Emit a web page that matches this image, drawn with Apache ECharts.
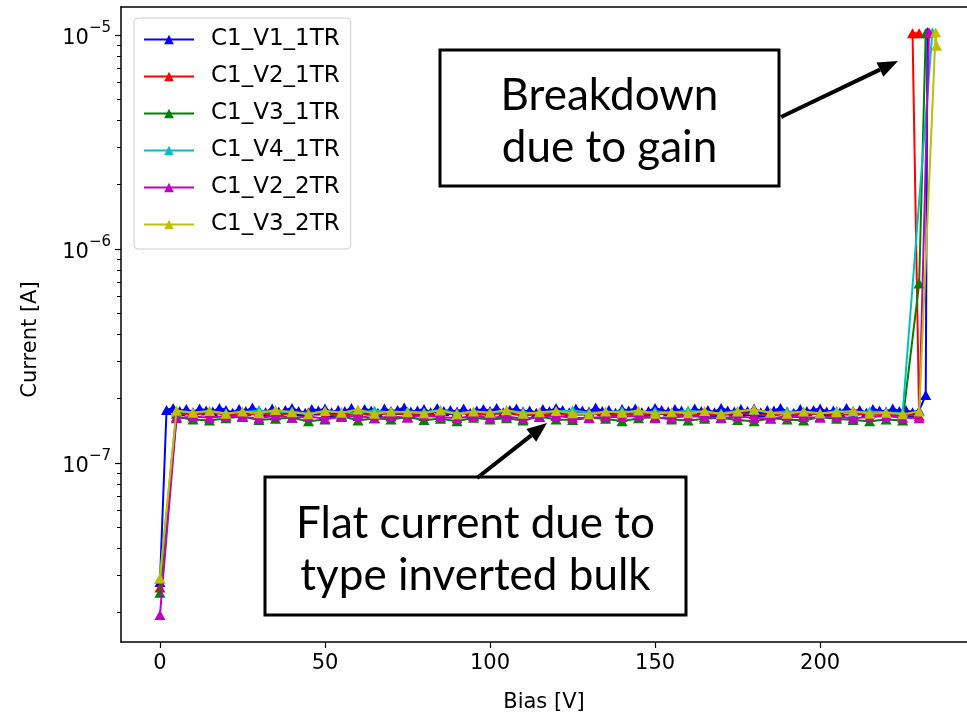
<!DOCTYPE html>
<html>
<head>
<meta charset="utf-8">
<script src="https://cdn.jsdelivr.net/npm/echarts@6/dist/echarts.min.js"></script>
<style>
  html, body { margin: 0; padding: 0; background: #ffffff; }
  #chart { width: 967px; height: 718px; }
</style>
</head>
<body>
<div id="chart"></div>
<script>
// I-V sweeps of six sensors: bias voltage [V] vs leakage current [A]
const seriesNames = ['C1_V1_1TR', 'C1_V2_1TR', 'C1_V3_1TR', 'C1_V4_1TR', 'C1_V2_2TR', 'C1_V3_2TR'];
const seriesColors = ['#0000ff', '#ff0000', '#008000', '#00bfbf', '#bf00bf', '#bfbf00'];

const biasV1_1TR = [0,2,4,6,8,10,12,14,16,18,20,22,24,26,28,30,32,34,36,38,40,42,44,46,48,50,52,54,56,58,60,62,64,66,68,70,72,74,76,78,80,82,84,86,88,90,92,94,96,98,100,102,104,106,108,110,112,114,116,118,120,122,124,126,128,130,132,134,136,138,140,142,144,146,148,150,152,154,156,158,160,162,164,166,168,170,172,174,176,178,180,182,184,186,188,190,192,194,196,198,200,202,204,206,208,210,212,214,216,218,220,222,224,226,228,230,232,232.5];
const currV1_1TR = [2.78e-8,
  1.77e-7,1.81e-7,1.75e-7,1.79e-7,1.73e-7,1.80e-7,1.76e-7,1.74e-7,1.81e-7,1.77e-7,
  1.72e-7,1.79e-7,1.75e-7,1.82e-7,1.76e-7,1.73e-7,1.80e-7,1.74e-7,1.77e-7,1.81e-7,
  1.75e-7,1.72e-7,1.79e-7,1.76e-7,1.80e-7,1.73e-7,1.77e-7,1.75e-7,1.81e-7,1.74e-7,
  1.79e-7,1.76e-7,1.72e-7,1.80e-7,1.75e-7,1.77e-7,1.82e-7,1.74e-7,1.76e-7,1.79e-7,
  1.73e-7,1.81e-7,1.75e-7,1.77e-7,1.74e-7,1.80e-7,1.72e-7,1.76e-7,1.79e-7,1.75e-7,
  1.81e-7,1.73e-7,1.77e-7,1.80e-7,1.74e-7,1.76e-7,1.72e-7,1.79e-7,1.75e-7,1.81e-7,
  1.77e-7,1.73e-7,1.80e-7,1.76e-7,1.74e-7,1.82e-7,1.75e-7,1.77e-7,1.72e-7,1.79e-7,
  1.76e-7,1.80e-7,1.73e-7,1.75e-7,1.81e-7,1.77e-7,1.74e-7,1.79e-7,1.76e-7,1.72e-7,
  1.80e-7,1.75e-7,1.77e-7,1.73e-7,1.81e-7,1.76e-7,1.74e-7,1.79e-7,1.75e-7,1.80e-7,
  1.73e-7,1.77e-7,1.76e-7,1.81e-7,1.74e-7,1.72e-7,1.79e-7,1.75e-7,1.77e-7,1.80e-7,
  1.74e-7,1.76e-7,1.73e-7,1.81e-7,1.75e-7,1.77e-7,1.72e-7,1.79e-7,1.76e-7,1.74e-7,
  1.80e-7,1.75e-7,1.77e-7,1.73e-7,1.76e-7,
  2.08e-7,1.03e-5];

const biasV2_1TR = [0,5,10,15,20,25,30,35,40,45,50,55,60,65,70,75,80,85,90,95,100,105,110,115,120,125,130,135,140,145,150,155,160,165,170,175,180,185,190,195,200,205,210,215,220,225,230,228,230];
const currV2_1TR = [2.62e-8,
  1.70e-7,1.68e-7,1.72e-7,1.69e-7,1.67e-7,1.71e-7,1.68e-7,1.70e-7,1.73e-7,1.69e-7,
  1.67e-7,1.70e-7,1.68e-7,1.71e-7,1.69e-7,1.66e-7,1.70e-7,1.72e-7,1.68e-7,1.69e-7,
  1.71e-7,1.67e-7,1.70e-7,1.68e-7,1.69e-7,1.72e-7,1.67e-7,1.70e-7,1.68e-7,1.71e-7,
  1.69e-7,1.66e-7,1.70e-7,1.68e-7,1.72e-7,1.69e-7,1.67e-7,1.70e-7,1.68e-7,1.71e-7,
  1.69e-7,1.68e-7,1.70e-7,1.67e-7,1.69e-7,1.66e-7,
  1.02e-5,1.02e-5];

const biasV3_1TR = [0,5,10,15,20,25,30,35,40,45,50,55,60,65,70,75,80,85,90,95,100,105,110,115,120,125,130,135,140,145,150,155,160,165,170,175,180,185,190,195,200,205,210,215,220,225,230,232];
const currV3_1TR = [2.48e-8,
  1.64e-7,1.60e-7,1.58e-7,1.62e-7,1.65e-7,1.59e-7,1.61e-7,1.63e-7,1.57e-7,1.60e-7,
  1.66e-7,1.58e-7,1.62e-7,1.60e-7,1.64e-7,1.59e-7,1.61e-7,1.57e-7,1.63e-7,1.60e-7,
  1.62e-7,1.58e-7,1.65e-7,1.60e-7,1.59e-7,1.63e-7,1.61e-7,1.57e-7,1.62e-7,1.64e-7,
  1.60e-7,1.58e-7,1.61e-7,1.63e-7,1.59e-7,1.57e-7,1.62e-7,1.60e-7,1.58e-7,1.64e-7,
  1.61e-7,1.59e-7,1.57e-7,1.60e-7,1.58e-7,
  6.9e-7,1.02e-5];

const biasV4_1TR = [0,5,10,15,20,25,30,35,40,45,50,55,60,65,70,75,80,85,90,95,100,105,110,115,120,125,130,135,140,145,150,155,160,165,170,175,180,185,190,195,200,205,210,215,220,225,234];
const currV4_1TR = [2.88e-8,
  1.74e-7,1.72e-7,1.75e-7,1.71e-7,1.73e-7,1.76e-7,1.72e-7,1.74e-7,1.70e-7,1.75e-7,
  1.73e-7,1.71e-7,1.76e-7,1.72e-7,1.74e-7,1.73e-7,1.77e-7,1.71e-7,1.74e-7,1.72e-7,
  1.75e-7,1.73e-7,1.70e-7,1.74e-7,1.76e-7,1.72e-7,1.73e-7,1.75e-7,1.71e-7,1.74e-7,
  1.72e-7,1.76e-7,1.73e-7,1.71e-7,1.75e-7,1.77e-7,1.72e-7,1.74e-7,1.73e-7,1.70e-7,
  1.75e-7,1.72e-7,1.74e-7,1.73e-7,1.71e-7,
  1.03e-5];

const biasV2_2TR = [0,5,10,15,20,25,30,35,40,45,50,55,60,65,70,75,80,85,90,95,100,105,110,115,120,125,130,135,140,145,150,155,160,165,170,175,180,185,190,195,200,205,210,215,220,225,230,233];
const currV2_2TR = [1.95e-8,
  1.62e-7,1.65e-7,1.63e-7,1.66e-7,1.64e-7,1.62e-7,1.67e-7,1.63e-7,1.65e-7,1.61e-7,
  1.64e-7,1.66e-7,1.62e-7,1.65e-7,1.63e-7,1.67e-7,1.64e-7,1.62e-7,1.66e-7,1.63e-7,
  1.65e-7,1.61e-7,1.64e-7,1.66e-7,1.63e-7,1.62e-7,1.65e-7,1.64e-7,1.67e-7,1.62e-7,
  1.63e-7,1.66e-7,1.64e-7,1.62e-7,1.65e-7,1.63e-7,1.61e-7,1.66e-7,1.64e-7,1.63e-7,
  1.65e-7,1.62e-7,1.64e-7,1.66e-7,1.63e-7,1.62e-7,
  1.03e-5];

const biasV3_2TR = [0,5,10,15,20,25,30,35,40,45,50,55,60,65,70,75,80,85,90,95,100,105,110,115,120,125,130,135,140,145,150,155,160,165,170,175,180,185,190,195,200,205,210,215,220,225,230,235,235.3];
const currV3_2TR = [2.90e-8,
  1.76e-7,1.72e-7,1.75e-7,1.70e-7,1.74e-7,1.71e-7,1.77e-7,1.73e-7,1.69e-7,1.75e-7,
  1.72e-7,1.78e-7,1.70e-7,1.74e-7,1.73e-7,1.71e-7,1.76e-7,1.69e-7,1.74e-7,1.72e-7,
  1.77e-7,1.70e-7,1.73e-7,1.75e-7,1.71e-7,1.69e-7,1.74e-7,1.72e-7,1.76e-7,1.70e-7,
  1.73e-7,1.71e-7,1.75e-7,1.69e-7,1.74e-7,1.78e-7,1.72e-7,1.70e-7,1.74e-7,1.71e-7,
  1.73e-7,1.75e-7,1.70e-7,1.72e-7,1.69e-7,1.74e-7,
  1.03e-5,8.9e-6];

const biasArrays = [biasV1_1TR, biasV2_1TR, biasV3_1TR, biasV4_1TR, biasV2_2TR, biasV3_2TR];
const currArrays = [currV1_1TR, currV2_1TR, currV3_1TR, currV4_1TR, currV2_2TR, currV3_2TR];

// axis ticks
const biasTicks = [0, 50, 100, 150, 200];
const currentMajorTicks = [1e-7, 1e-6, 1e-5];
const currentMinorTicks = [2e-8,3e-8,4e-8,5e-8,6e-8,7e-8,8e-8,9e-8,
                           2e-7,3e-7,4e-7,5e-7,6e-7,7e-7,8e-7,9e-7,
                           2e-6,3e-6,4e-6,5e-6,6e-6,7e-6,8e-6,9e-6];
const biasRange = [-11.8, 244.5];
const currentRange = [1.459e-8, 1.352e-5];

// annotation text
const noteBreakdown = ['Breakdown', 'due to gain'];
const noteFlat = ['Flat current due to', 'type inverted bulk'];

const FONT = 'DejaVu Sans';
const chart = echarts.init(document.getElementById('chart'), null, { renderer: 'canvas' });

const series = seriesNames.map((name, i) => ({
  name: name,
  type: 'line',
  xAxisIndex: 0,
  yAxisIndex: 0,
  data: biasArrays[i].map((v, k) => [v, currArrays[i][k]]),
  symbol: 'triangle',
  symbolSize: [11, 10],
  showSymbol: true,
  showAllSymbol: true,
  color: seriesColors[i],
  lineStyle: { width: 2, color: seriesColors[i] },
  itemStyle: { color: seriesColors[i] },
  emphasis: { disabled: true },
  animation: false,
  z: 2 + i
}));

function arrow(x1, y1, x2, y2) {
  const ang = Math.atan2(y2 - y1, x2 - x1);
  const L = 20, W = 8;
  const c = Math.cos(ang), s = Math.sin(ang);
  const bx = x2 - L * c, by = y2 - L * s;
  return [
    { type: 'line', z: 100, shape: { x1: x1, y1: y1, x2: bx, y2: by },
      style: { stroke: '#000', lineWidth: 4 } },
    { type: 'polygon', z: 100,
      shape: { points: [[x2, y2], [bx + W * s, by - W * c], [bx - W * s, by + W * c]] },
      style: { fill: '#000' } }
  ];
}

function noteBox(x, y, w, h, lines, lineGap, size) {
  const els = [{ type: 'rect', z: 100, shape: { x: x, y: y, width: w, height: h },
    style: { fill: '#fff', stroke: '#000', lineWidth: 3 } }];
  const cy = y + h / 2 + 4;
  lines.forEach((t, i) => {
    els.push({ type: 'text', z: 101,
      style: { text: t, x: x + w / 2, y: cy + (i - (lines.length - 1) / 2) * lineGap,
        align: 'center', verticalAlign: 'middle', textAlign: 'center', textVerticalAlign: 'middle',
        font: size + 'px Lato', fill: '#000' } });
  });
  return els;
}

const option = {
  backgroundColor: '#ffffff',
  animation: false,
  grid: { left: 121, right: 0, top: 7, bottom: 76, outerBoundsMode: 'none', containLabel: false },
  legend: {
    orient: 'vertical',
    left: 134, top: 18,
    data: seriesNames,
    itemWidth: 50, itemHeight: 12, itemGap: 14,
    padding: [10, 11, 13, 9],
    backgroundColor: '#ffffff',
    borderColor: '#cccccc', borderWidth: 1, borderRadius: 4,
    textStyle: { fontFamily: FONT, fontSize: 23, color: '#000', lineHeight: 20, padding: [0, 0, 0, 12] },
    selectedMode: false
  },
  xAxis: [{
    type: 'value', min: biasRange[0], max: biasRange[1],
    name: 'Bias [V]', nameLocation: 'middle', nameGap: 50,
    nameTextStyle: { fontFamily: FONT, fontSize: 21, color: '#000' },
    axisLine: { show: true, onZero: false, lineStyle: { color: '#000', width: 1.5 } },
    axisTick: { show: true, customValues: biasTicks, length: 6, lineStyle: { color: '#000', width: 1.2 } },
    axisLabel: { customValues: biasTicks, margin: 11, fontFamily: FONT, fontSize: 21, color: '#000' },
    splitLine: { show: false }
  }, {
    type: 'value', position: 'top', min: biasRange[0], max: biasRange[1],
    axisLine: { show: true, onZero: false, lineStyle: { color: '#000', width: 1.5 } },
    axisTick: { show: false }, axisLabel: { show: false }, splitLine: { show: false }
  }],
  yAxis: [{
    type: 'log', logBase: 10, min: currentRange[0], max: currentRange[1],
    name: 'Current [A]', nameLocation: 'middle', nameGap: 80,
    nameTextStyle: { fontFamily: FONT, fontSize: 21, color: '#000', padding: [0, 30, 0, 0] },
    axisLine: { show: true, onZero: false, lineStyle: { color: '#000', width: 1.5 } },
    axisTick: { show: true, customValues: currentMajorTicks, length: 6, lineStyle: { color: '#000', width: 1.2 } },
    axisLabel: {
      customValues: currentMajorTicks, margin: 10,
      formatter: function (v) {
        const e = Math.round(v > 0 ? Math.log10(v) : v);
        return '{b|10}{s|\u2212' + Math.abs(e) + '}';
      },
      rich: {
        b: { fontFamily: FONT, fontSize: 21, color: '#000', padding: [7, 0, 0, 0] },
        s: { fontFamily: FONT, fontSize: 15, color: '#000', verticalAlign: 'top' }
      }
    },
    splitLine: { show: false }
  }, {
    type: 'log', logBase: 10, min: currentRange[0], max: currentRange[1], position: 'left',
    axisLine: { show: false, onZero: false },
    axisTick: { show: true, customValues: currentMinorTicks, length: 4, lineStyle: { color: '#000', width: 1 } },
    axisLabel: { show: false }, splitLine: { show: false }
  }],
  series: series,
  graphic: [].concat(
    noteBox(440, 50, 339, 136, noteBreakdown, 52, 44),
    arrow(781, 117, 898, 61),
    noteBox(265, 477, 421, 138, noteFlat, 52, 44),
    arrow(477, 478, 547, 423)
  )
};

chart.setOption(option);
</script>
</body>
</html>
